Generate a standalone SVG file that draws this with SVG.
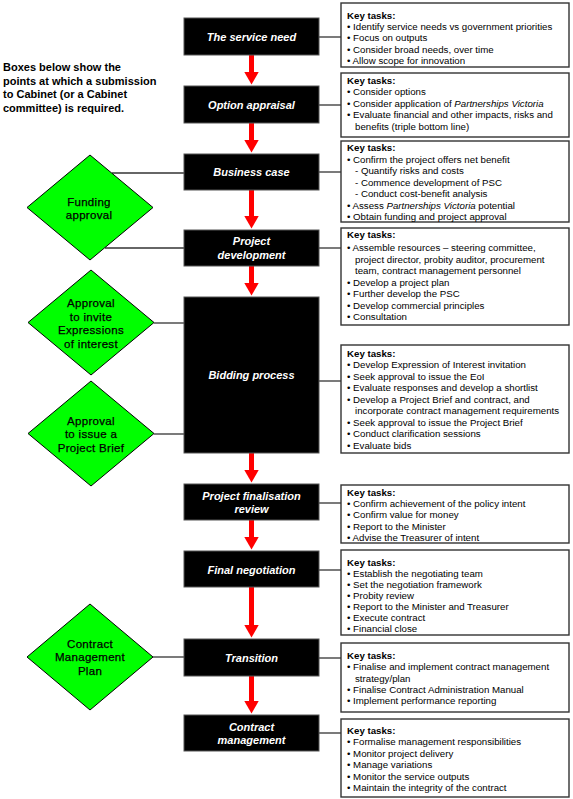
<svg xmlns="http://www.w3.org/2000/svg" width="573" height="799" viewBox="0 0 573 799">
<style>
text{font-family:"Liberation Sans",Arial,sans-serif;}
.stage rect{fill:#000;stroke:#555;stroke-width:1;}
.stage text{fill:#fff;font-size:11px;font-weight:bold;font-style:italic;text-anchor:middle;}
.task rect{fill:#fff;stroke:#333;stroke-width:1.4;}
.task text{fill:#000;font-size:9.7px;}
.task .h{font-weight:bold;}
.dia polygon{fill:#00ff00;stroke:#000;stroke-width:1;}
.dia text{fill:#000;font-size:11.5px;text-anchor:middle;letter-spacing:0.3px;stroke:#000;stroke-width:0.25;}
.note{font-size:11px;font-weight:bold;fill:#000;}
.link line{stroke:#333;stroke-width:1.3;}
.flow line{stroke:#ff0000;stroke-width:5;}
</style>
<defs>
<marker id="ah" viewBox="0 0 13 15" refX="0.5" refY="7.5" markerWidth="13" markerHeight="15" markerUnits="userSpaceOnUse" orient="auto">
<path d="M0,0 L13,7.5 L0,15 z" fill="#ff0000"/>
</marker>
</defs>
<rect width="573" height="799" fill="#fff"/>

<g id="connectors">
<g class="link">
<line x1="319" y1="37" x2="341" y2="37"/>
<line x1="319" y1="105" x2="341" y2="105"/>
<line x1="319" y1="172" x2="341" y2="172"/>
<line x1="319" y1="248" x2="341" y2="248"/>
<line x1="319" y1="381" x2="341" y2="381"/>
<line x1="319" y1="503" x2="341" y2="503"/>
<line x1="319" y1="570" x2="341" y2="570"/>
<line x1="319" y1="658" x2="341" y2="658"/>
<line x1="319" y1="733" x2="341" y2="733"/>
<line x1="112" y1="173" x2="184" y2="173"/>
<line x1="105" y1="248" x2="184" y2="248"/>
<line x1="154" y1="323" x2="184" y2="323"/>
<line x1="154" y1="434" x2="184" y2="434"/>
<line x1="153" y1="657" x2="184" y2="657"/>
</g>
<g class="flow">
<line x1="251.5" y1="55" x2="251.5" y2="72" marker-end="url(#ah)"/>
<line x1="251.5" y1="123" x2="251.5" y2="140" marker-end="url(#ah)"/>
<line x1="251.5" y1="190" x2="251.5" y2="216" marker-end="url(#ah)"/>
<line x1="251.5" y1="266" x2="251.5" y2="283" marker-end="url(#ah)"/>
<line x1="251.5" y1="453" x2="251.5" y2="470" marker-end="url(#ah)"/>
<line x1="251.5" y1="520" x2="251.5" y2="537" marker-end="url(#ah)"/>
<line x1="251.5" y1="587" x2="251.5" y2="625" marker-end="url(#ah)"/>
<line x1="251.5" y1="676" x2="251.5" y2="701" marker-end="url(#ah)"/>
</g>
</g>

<g id="note">
<text class="note" x="3" y="71">Boxes below show the</text>
<text class="note" x="3" y="85">points at which a submission</text>
<text class="note" x="3" y="98">to Cabinet (or a Cabinet</text>
<text class="note" x="3" y="112">committee) is required.</text>
</g>

<g id="d-funding" class="dia">
<polygon points="90,155 153,207.5 90,260 27,207.5"/>
<text x="89" y="206">Funding</text>
<text x="89" y="219">approval</text>
</g>
<g id="d-eoi" class="dia">
<polygon points="91,270 154,322.5 91,375 28,322.5"/>
<text x="91" y="307">Approval</text>
<text x="91" y="321">to invite</text>
<text x="91" y="334">Expressions</text>
<text x="91" y="348">of interest</text>
</g>
<g id="d-brief" class="dia">
<polygon points="91,381 154,433.5 91,486 28,433.5"/>
<text x="91" y="425">Approval</text>
<text x="91" y="438">to issue a</text>
<text x="91" y="452">Project Brief</text>
</g>
<g id="d-cmp" class="dia">
<polygon points="90,604 153,657 90,710 27,657"/>
<text x="90" y="648">Contract</text>
<text x="90" y="661">Management</text>
<text x="90" y="675">Plan</text>
</g>

<g id="s-need" class="stage"><rect x="184" y="18" width="135" height="37"/><text x="251.5" y="41">The service need</text></g>
<g id="s-option" class="stage"><rect x="184" y="86" width="135" height="37"/><text x="251.5" y="109">Option appraisal</text></g>
<g id="s-business" class="stage"><rect x="184" y="154" width="135" height="36"/><text x="251.5" y="176">Business case</text></g>
<g id="s-projdev" class="stage"><rect x="184" y="230" width="135" height="36"/><text x="251.5" y="245">Project</text><text x="251.5" y="259">development</text></g>
<g id="s-bidding" class="stage"><rect x="184" y="297" width="135" height="156"/><text x="251.5" y="379">Bidding process</text></g>
<g id="s-final-review" class="stage"><rect x="184" y="484" width="135" height="36"/><text x="251.5" y="500">Project finalisation</text><text x="251.5" y="513">review</text></g>
<g id="s-negotiation" class="stage"><rect x="184" y="551" width="135" height="36"/><text x="251.5" y="574">Final negotiation</text></g>
<g id="s-transition" class="stage"><rect x="184" y="639" width="135" height="37"/><text x="251.5" y="662">Transition</text></g>
<g id="s-contract" class="stage"><rect x="184" y="715" width="135" height="36"/><text x="251.5" y="731">Contract</text><text x="251.5" y="744">management</text></g>

<g id="t-need" class="task">
<rect x="341" y="3" width="228" height="64"/>
<text class="h" x="347" y="18.5">Key tasks:</text>
<text x="347" y="29.5">• Identify service needs vs government priorities</text>
<text x="347" y="41">• Focus on outputs</text>
<text x="347" y="52.5">• Consider broad needs, over time</text>
<text x="347" y="64">• Allow scope for innovation</text>
</g>
<g id="t-option" class="task">
<rect x="341" y="73" width="228" height="64"/>
<text class="h" x="347" y="84">Key tasks:</text>
<text x="347" y="95">• Consider options</text>
<text x="347" y="106.5">• Consider application of <tspan font-style="italic">Partnerships Victoria</tspan></text>
<text x="347" y="118">• Evaluate financial and other impacts, risks and</text>
<text x="355" y="129.5">benefits (triple bottom line)</text>
</g>
<g id="t-business" class="task">
<rect x="341" y="141" width="228" height="81"/>
<text class="h" x="347" y="151">Key tasks:</text>
<text x="347" y="162.5">• Confirm the project offers net benefit</text>
<text x="355" y="174">- Quantify risks and costs</text>
<text x="355" y="185.5">- Commence development of PSC</text>
<text x="355" y="197">- Conduct cost-benefit analysis</text>
<text x="347" y="208.5">• Assess <tspan font-style="italic">Partnerships Victoria</tspan> potential</text>
<text x="347" y="220">• Obtain funding and project approval</text>
</g>
<g id="t-projdev" class="task">
<rect x="341" y="228" width="228" height="97"/>
<text class="h" x="347" y="238">Key tasks:</text>
<text x="347" y="251">• Assemble resources – steering committee,</text>
<text x="355" y="262.5">project director, probity auditor, procurement</text>
<text x="355" y="274">team, contract management personnel</text>
<text x="347" y="285.5">• Develop a project plan</text>
<text x="347" y="297">• Further develop the PSC</text>
<text x="347" y="308.5">• Develop commercial principles</text>
<text x="347" y="320">• Consultation</text>
</g>
<g id="t-bidding" class="task">
<rect x="341" y="345" width="228" height="108"/>
<text class="h" x="347" y="356.5">Key tasks:</text>
<text x="347" y="368">• Develop Expression of Interest invitation</text>
<text x="347" y="379.5">• Seek approval to issue the EoI</text>
<text x="347" y="391">• Evaluate responses and develop a shortlist</text>
<text x="347" y="402.5">• Develop a Project Brief and contract, and</text>
<text x="355" y="414">incorporate contract management requirements</text>
<text x="347" y="425.5">• Seek approval to issue the Project Brief</text>
<text x="347" y="437">• Conduct clarification sessions</text>
<text x="347" y="448.5">• Evaluate bids</text>
</g>
<g id="t-final-review" class="task">
<rect x="341" y="485" width="228" height="58"/>
<text class="h" x="347" y="495.5">Key tasks:</text>
<text x="347" y="507">• Confirm achievement of the policy intent</text>
<text x="347" y="518">• Confirm value for money</text>
<text x="347" y="529.5">• Report to the Minister</text>
<text x="347" y="540.5">• Advise the Treasurer of intent</text>
</g>
<g id="t-negotiation" class="task">
<rect x="341" y="550" width="228" height="85"/>
<text class="h" x="347" y="565.5">Key tasks:</text>
<text x="347" y="576.5">• Establish the negotiating team</text>
<text x="347" y="587.5">• Set the negotiation framework</text>
<text x="347" y="599">• Probity review</text>
<text x="347" y="610">• Report to the Minister and Treasurer</text>
<text x="347" y="621">• Execute contract</text>
<text x="347" y="632">• Financial close</text>
</g>
<g id="t-transition" class="task">
<rect x="341" y="643" width="228" height="69"/>
<text class="h" x="347" y="658.5">Key tasks:</text>
<text x="347" y="670">• Finalise and implement contract management</text>
<text x="355" y="681.5">strategy/plan</text>
<text x="347" y="692.5">• Finalise Contract Administration Manual</text>
<text x="347" y="704">• Implement performance reporting</text>
</g>
<g id="t-contract" class="task">
<rect x="341" y="719" width="228" height="78"/>
<text class="h" x="347" y="733.5">Key tasks:</text>
<text x="347" y="745">• Formalise management responsibilities</text>
<text x="347" y="756.5">• Monitor project delivery</text>
<text x="347" y="768">• Manage variations</text>
<text x="347" y="779.5">• Monitor the service outputs</text>
<text x="347" y="791">• Maintain the integrity of the contract</text>
</g>
</svg>
